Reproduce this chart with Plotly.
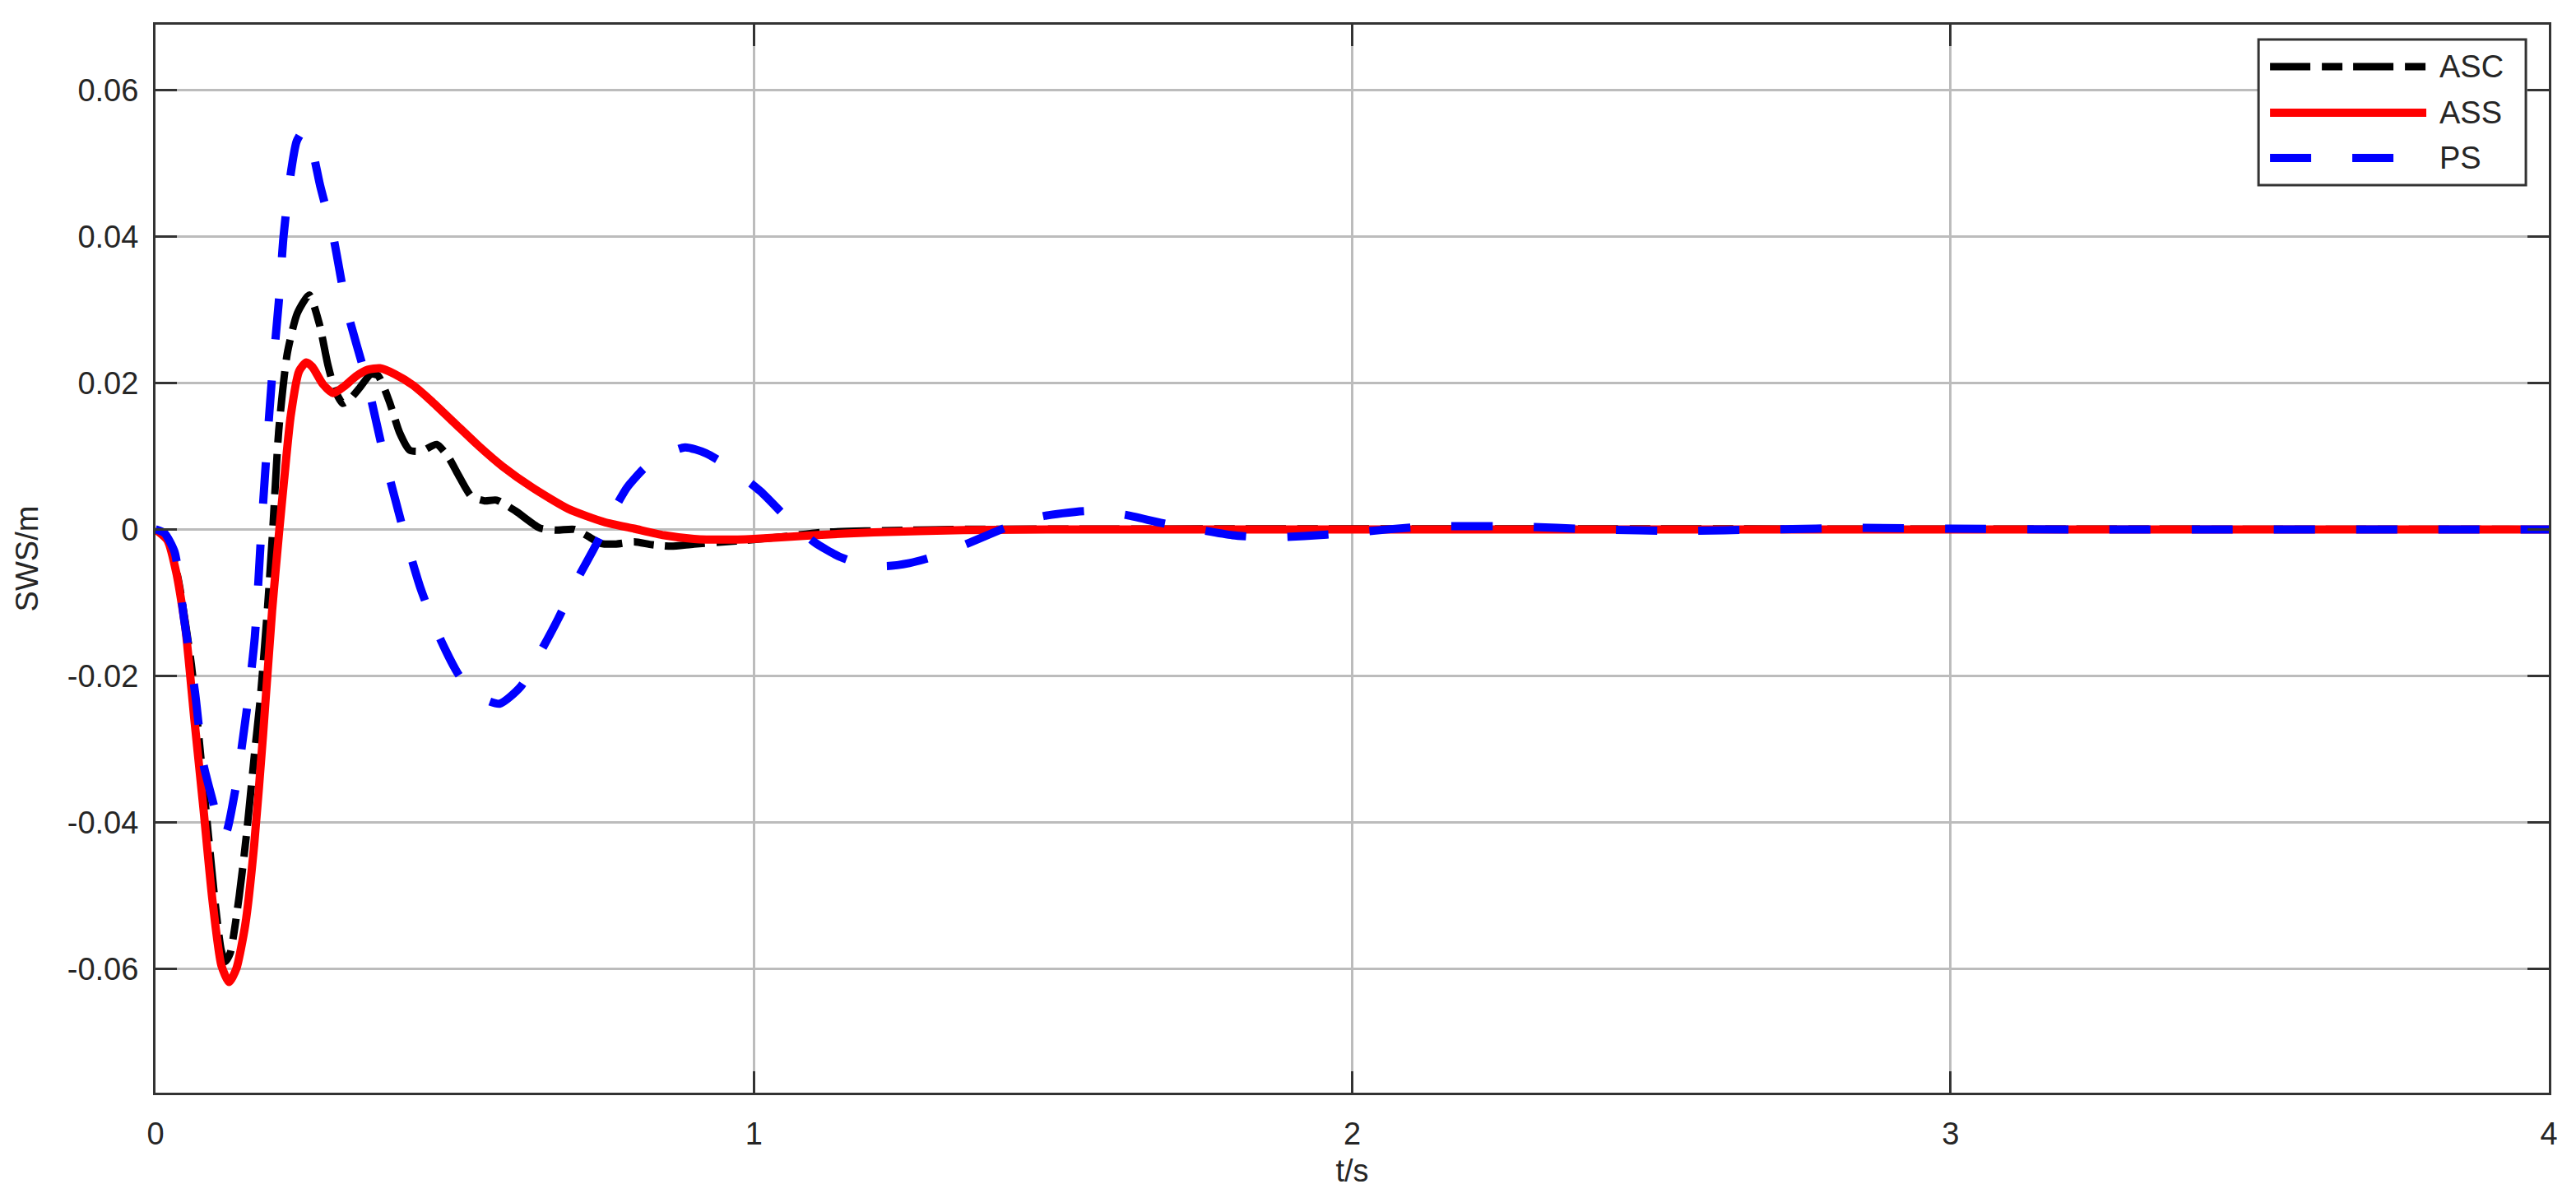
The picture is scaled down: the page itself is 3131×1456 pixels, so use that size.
import plotly.graph_objects as go

# Time samples and responses (SWS in m, t in s)
t_asc = [0, 0.02, 0.038, 0.06, 0.083, 0.1, 0.11, 0.117, 0.125, 0.14, 0.152, 0.165,
         0.175, 0.187, 0.196, 0.206, 0.22, 0.237, 0.257, 0.274, 0.288, 0.3, 0.313,
         0.325, 0.34, 0.36, 0.372, 0.391, 0.408, 0.425, 0.445, 0.47, 0.49, 0.505,
         0.528, 0.55, 0.57, 0.602, 0.642, 0.67, 0.7, 0.72, 0.744, 0.77, 0.8, 0.83,
         0.862, 0.9, 0.97, 1.05, 1.113, 1.2, 1.35, 4.0]
asc = [0, -0.0012, -0.0068, -0.0185, -0.0372, -0.0512, -0.0575, -0.059, -0.0578,
       -0.05, -0.0417, -0.031, -0.0232, -0.011, 0.0, 0.0135, 0.0239, 0.0295, 0.032,
       0.028, 0.0225, 0.019, 0.0172, 0.0178, 0.0192, 0.0212, 0.021, 0.0174, 0.0132,
       0.0108, 0.0107, 0.0116, 0.0098, 0.0076, 0.0045, 0.0039, 0.004, 0.0025,
       0.0002, -0.0001, 0.0, -0.0008, -0.0019, -0.002, -0.0017, -0.0021, -0.0023,
       -0.002, -0.0016, -0.001, -0.0004, -0.0002, 0.0, 0.0]

t_ass = [0, 0.02, 0.035, 0.05, 0.065, 0.08, 0.095, 0.11, 0.123, 0.135, 0.15, 0.165,
         0.18, 0.195, 0.207, 0.215, 0.226, 0.24, 0.252, 0.262, 0.28, 0.297, 0.315,
         0.335, 0.355, 0.375, 0.4, 0.43, 0.46, 0.5, 0.54, 0.58, 0.63, 0.69, 0.75,
         0.8, 0.85, 0.9, 0.95, 1.0, 1.1, 1.2, 1.35, 1.5, 4.0]
ass = [0, -0.0015, -0.006, -0.0135, -0.026, -0.038, -0.0505, -0.0595, -0.0618,
       -0.06, -0.054, -0.043, -0.0278, -0.011, 0.0, 0.0068, 0.0155, 0.0216, 0.0228,
       0.0222, 0.0198, 0.0186, 0.0195, 0.0209, 0.0218, 0.022, 0.0212, 0.0197,
       0.0176, 0.0145, 0.0114, 0.0086, 0.0057, 0.0028, 0.001, 0.0001, -0.0008,
       -0.0013, -0.0014, -0.0013, -0.0008, -0.0004, -0.0001, 0.0, 0.0]

t_ps = [0, 0.015, 0.032, 0.048, 0.066, 0.08, 0.097, 0.108, 0.114, 0.12, 0.135,
        0.152, 0.166, 0.177, 0.186, 0.194, 0.206, 0.214, 0.225, 0.236, 0.248, 0.26,
        0.275, 0.297, 0.32, 0.354, 0.382, 0.414, 0.442, 0.475, 0.508, 0.54, 0.575,
        0.61, 0.647, 0.673, 0.705, 0.733, 0.761, 0.788, 0.815, 0.84, 0.885, 0.92,
        0.959, 1.011, 1.056, 1.102, 1.14, 1.17, 1.221, 1.26, 1.301, 1.358, 1.426,
        1.483, 1.557, 1.62, 1.68, 1.727, 1.8, 1.858, 1.92, 1.995, 2.06, 2.131,
        2.274, 2.41, 2.546, 2.7, 2.85, 3.0, 3.2, 4.0]
ps = [0, -0.0005, -0.0031, -0.0124, -0.0222, -0.032, -0.0375, -0.0412, -0.042,
      -0.041, -0.0348, -0.025, -0.0147, 0.0, 0.011, 0.02, 0.031, 0.04, 0.048, 0.053,
      0.0545, 0.0525, 0.047, 0.04, 0.03, 0.02, 0.01, 0.0, -0.0078, -0.0148, -0.02,
      -0.0228, -0.0238, -0.0215, -0.0162, -0.0122, -0.0068, -0.0026, 0.0019,
      0.0057, 0.0082, 0.0098, 0.0112, 0.0104, 0.0085, 0.0052, 0.0015, -0.0018,
      -0.0036, -0.0045, -0.005, -0.0046, -0.0037, -0.0019, 0.0004, 0.0018, 0.0025,
      0.002, 0.0009, 0.0002, -0.0008, -0.0011, -0.0009, -0.0005, 0.0, 0.0004,
      0.0004, 0.0, -0.0002, 0.0, 0.0002, 0.0001, 0.0, 0.0]

names = ["ASC", "ASS", "PS"]
colors = ["#000000", "#ff0000", "#0000ff"]
dashes = ["49px,14px,25px,13px", "solid", "50px,50px"]
widths = [9, 10, 10]

x_ticks = [0, 1, 2, 3, 4]
y_ticks = [-0.06, -0.04, -0.02, 0, 0.02, 0.04, 0.06]
y_ticklabels = ["-0.06", "-0.04", "-0.02", "0", "0.02", "0.04", "0.06"]

series = [(t_asc, asc), (t_ass, ass), (t_ps, ps)]

fig = go.Figure()
for (tt, yy), name, c, d, w in zip(series, names, colors, dashes, widths):
    fig.add_trace(go.Scatter(
        x=tt, y=yy, name=name, mode="lines",
        line=dict(color=c, width=w, dash=d, shape="spline", smoothing=0.6),
        showlegend=False,
    ))

axis_font = dict(family="Liberation Sans, Arial, sans-serif", size=38, color="#262626")

# legend box drawn by hand so the long dash samples show like the original
shapes = [dict(type="rect", xref="paper", yref="paper",
               x0=0.8787, x1=0.9904, y0=0.8498, y1=0.9861,
               line=dict(color="#333333", width=3), fillcolor="white", layer="above")]
annotations = []
row_y = [0.9607, 0.9176, 0.8752]
for name, c, d, w, ry in zip(names, colors, dashes, widths, row_y):
    shapes.append(dict(type="line", xref="paper", yref="paper",
                       x0=0.8835, x1=0.9488, y0=ry, y1=ry, layer="above",
                       line=dict(color=c, width=w, dash=d)))
    annotations.append(dict(xref="paper", yref="paper", x=0.9536, y=ry,
                            text=name, showarrow=False, xanchor="left",
                            yanchor="middle", font=axis_font))

fig.update_layout(
    width=3131, height=1456,
    margin=dict(l=189, r=33, t=30, b=128),
    plot_bgcolor="white", paper_bgcolor="white",
    shapes=shapes, annotations=annotations,
    showlegend=False,
)
fig.update_xaxes(
    range=[0, 4], tickvals=x_ticks, ticktext=[str(v) for v in x_ticks],
    showgrid=True, gridcolor="#bcbcbc", gridwidth=3, zeroline=False,
    showline=True, linecolor="#333333", linewidth=3, mirror="ticks",
    ticks="inside", ticklen=26, tickwidth=3, tickcolor="#333333",
    tickfont=axis_font, ticklabelstandoff=14,
    title=dict(text="t/s", font=axis_font, standoff=12),
)
fig.update_yaxes(
    range=[-0.0769, 0.0689], tickvals=y_ticks, ticktext=y_ticklabels,
    showgrid=True, gridcolor="#bcbcbc", gridwidth=3, zeroline=False,
    showline=True, linecolor="#333333", linewidth=3, mirror="ticks",
    ticks="inside", ticklen=26, tickwidth=3, tickcolor="#333333",
    tickfont=axis_font, ticklabelstandoff=10,
    title=dict(text="SWS/m", font=axis_font, standoff=24),
)

fig.write_html("out.html", config={"displayModeBar": False},
               post_script="document.body.style.margin='0';document.body.style.overflow='hidden';")
